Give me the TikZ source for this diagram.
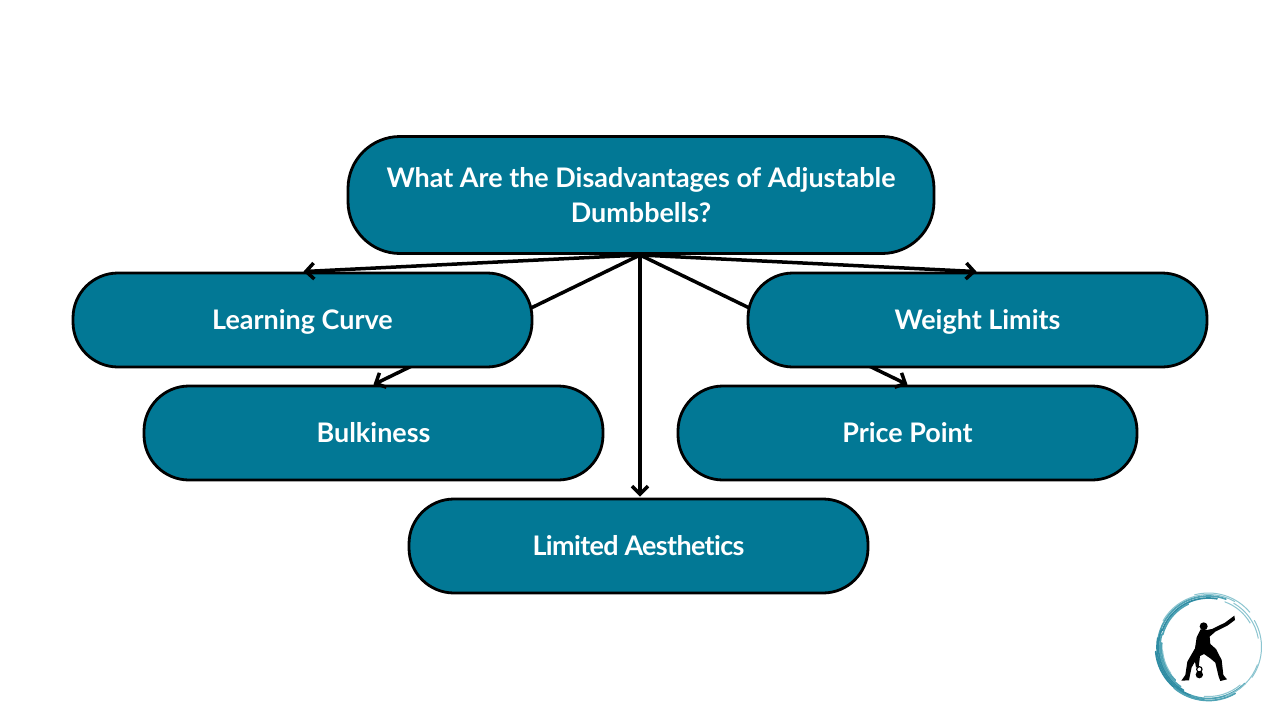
\documentclass[tikz,border=0pt]{standalone}
\usepackage{fontspec}
\setmainfont{Lato}[Ligatures=NoCommon]
\usetikzlibrary{arrows.meta}
\definecolor{boxteal}{HTML}{027895}
\definecolor{ringd}{HTML}{2F8CA3}
\definecolor{ringa}{HTML}{4FA3B5}
\definecolor{ringb}{HTML}{8CC5D0}
\tikzset{
  box/.style={draw=black,line width=2.8pt,fill=boxteal,rounded corners=45pt,minimum width=459pt,minimum height=94pt,inner sep=0pt,text=white,font=\fontsize{26.95}{35}\selectfont\bfseries,align=center},
  single/.style={text height=19pt,text depth=0pt},
  link/.style={draw=black,line width=3.5pt,-{Straight Barb[length=8pt,width=16pt,line width=3.5pt]}},
  ringdark/.style={ringd,line cap=round,line width=1.7pt},
  ringthick/.style={ringa,line cap=round,line width=1.7pt},
  ringthin/.style={ringb,line cap=round,line width=1pt}
}
\begin{document}
\begin{tikzpicture}[x=1pt,y=-1pt]
\useasboundingbox (0,0) rectangle (1280,720);
\fill[white] (0,0) rectangle (1280,720);
\node[box,minimum width=586pt,minimum height=117pt,rounded corners=52pt] (top) at (641,195) {What Are the Disadvantages of Adjustable\\Dumbbells?};
\coordinate (hub) at (640,255);
\node[box,single] (bulk) at (373.5,433) {Bulkiness};
\node[box,single] (price) at (907.5,433) {Price Point};
\node[box,single] (aes) at (638.5,546) {\addfontfeature{LetterSpace=-2.4}Limited Aesthetics};
\draw[link] (hub) -- (bulk.north);
\draw[link] (hub) -- (price.north);
\draw[link,shorten >=1pt] (hub) -- (hub |- aes.north);
\node[box,single] (curve) at (302.5,320) {Learning Curve};
\node[box,single] (weight) at (977.5,320) {Weight Limits};
\draw[link,shorten >=1pt] (hub) -- (curve.north);
\draw[link,shorten >=1pt] (hub) -- (weight.north);
% logo ring
\begin{scope}[shift={(1208.5,647)}]
\foreach \r/\s/\e/\st in {
 54/-105/-40/ringthin, 52.5/-150/-60/ringthin, 51/-175/-70/ringthick, 49/-160/-80/ringdark,
 53/-30/35/ringthin, 50.5/-60/-10/ringthin, 48/-70/-30/ringthin,
 53/175/95/ringdark, 51.5/190/110/ringdark, 50/200/120/ringdark, 48.5/195/125/ringthick,
 47/185/135/ringthick, 53.5/130/60/ringthick, 51.5/110/45/ringthick, 49.5/95/50/ringthin,
 47.5/-165/-115/ringthick, 46/175/145/ringthin, 52/20/70/ringthin}{
  \draw[\st] ({\r*cos(\s)},{\r*sin(\s)}) arc[start angle=-\s,end angle=-\e,radius=\r pt];
}
\end{scope}
% logo figure
\begin{scope}[shift={(1140,580)},scale=0.3333]
\fill[black] (191,139) circle[radius=12];
\fill[black] (182,148) -- (200,150) -- (216,147) -- (255,128) -- (283,107) -- (285,120) -- (262,137) -- (226,155) -- (209,170) -- (211,192) -- (228,207) -- (245,240) -- (250,285) -- (261,298) -- (241,303) -- (236,290) -- (226,248) -- (212,236) -- (192,222) -- (180,228) -- (176,262) -- (168,262) -- (165,245) -- (155,262) -- (150,285) -- (147,301) -- (124,302) -- (136,285) -- (142,245) -- (165,205) -- (170,172) -- cycle;
\draw[black,line width=1.2pt] (178,268) circle[radius=8];
\fill[black] (178,284) circle[radius=11];
\end{scope}
\end{tikzpicture}
\end{document}
